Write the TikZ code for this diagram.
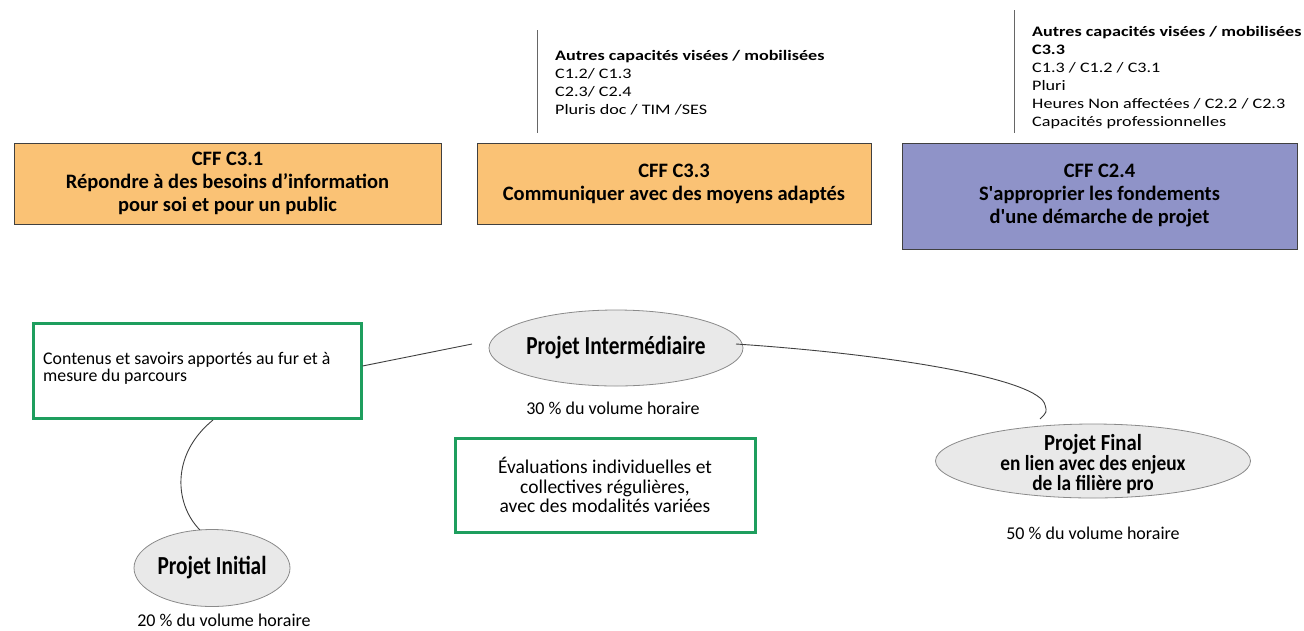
\documentclass[tikz,border=0pt]{standalone}
\usepackage{fontspec}
\setmainfont{Carlito}
\newfontfamily\ellfont{Carlito}[FakeStretch=0.82]
\newfontfamily\finfont{Carlito}[FakeStretch=0.9]
\newfontfamily\wdfont{Carlito}[FakeStretch=1.25]
\usetikzlibrary{shapes.geometric}
\definecolor{orangefill}{HTML}{FAC275}
\definecolor{bluefill}{HTML}{8F93C8}
\definecolor{greenline}{HTML}{1E9E5E}
\definecolor{ellfill}{HTML}{E9E9E9}
\definecolor{ellline}{HTML}{8A8A8A}
\tikzset{
  cffbox/.style={draw=black!75, line width=1pt, inner sep=0pt, font=\fontsize{20.5}{23}\selectfont\bfseries, align=center},
  greenbox/.style={draw=greenline, line width=3pt, inner sep=0pt},
  projell/.style={ellipse, draw=ellline, fill=ellfill, line width=0.8pt, inner sep=0pt, font=\ellfont\fontsize{26}{26}\selectfont\bfseries, align=center},
  sidetxt/.style={font=\wdfont\fontsize{14.5}{18}\selectfont, align=left, inner sep=0pt},
  smalltxt/.style={font=\fontsize{17.8}{17.5}\selectfont, align=left, inner sep=0pt},
  pcttxt/.style={font=\fontsize{18}{20}\selectfont, inner sep=0pt},
  vline/.style={draw=black!60, line width=1pt},
  conn/.style={draw=black!75, line width=0.9pt}
}
\begin{document}
\begin{tikzpicture}[x=1pt,y=-1pt]
\useasboundingbox (0,0) rectangle (1304,630);
% CFF boxes
\node[cffbox, fill=orangefill, minimum width=427pt, minimum height=81pt] (b1) at (227.5,183.5)
  {CFF C3.1\\Répondre à des besoins d’information\\pour soi et pour un public};
\node[cffbox, fill=orangefill, minimum width=394pt, minimum height=81pt] (b2) at (674,183.5)
  {CFF C3.3\\Communiquer avec des moyens adaptés};
\node[cffbox, fill=bluefill, minimum width=395pt, minimum height=106pt] (b3) at (1099.5,196)
  {CFF C2.4\\S\textquotesingle approprier les fondements\\d\textquotesingle une démarche de projet};
% vertical lines
\coordinate (v1a) at (537,30); \coordinate (v1b) at (537,133);
\coordinate (v2a) at (1014,10); \coordinate (v2b) at (1014,133);
\draw[vline] (v1a) -- (v1b);
\draw[vline] (v2a) -- (v2b);
% side texts
\node[sidetxt, anchor=north west] (t1) at (555,50.5)
  {\textbf{Autres capacités visées / mobilisées}\\C1.2/ C1.3\\C2.3/ C2.4\\Pluris doc / TIM /SES};
\node[sidetxt, anchor=north west] (t2) at (1032,26)
  {\textbf{Autres capacités visées / mobilisées}\\\textbf{C3.3}\\C1.3 / C1.2 / C3.1\\Pluri\\Heures Non affectées / C2.2 / C2.3\\Capacités professionnelles};
% green boxes
\node[greenbox, minimum width=328pt, minimum height=95pt] (gA) at (197,370.5) {};
\node[smalltxt, anchor=north west] (gAt) at (43,352)
  {Contenus et savoirs apportés au fur et à\\mesure du parcours};
\node[greenbox, minimum width=300pt, minimum height=94pt, font=\fontsize{19.5}{19.5}\selectfont, align=center] (gB) at (605,485)
  {Évaluations individuelles et\\collectives régulières,\\avec des modalités variées};
% ellipses
\node[projell, minimum width=254pt, minimum height=76pt] (pi) at (616,348) {Projet Intermédiaire};
\node[projell, minimum width=156pt, minimum height=77pt] (pin) at (212,568) {Projet Initial};
\node[projell, minimum width=315pt, minimum height=74pt, font=\finfont\fontsize{21.5}{20}\selectfont\bfseries] (pf) at (1093,461) {};
\node[font=\finfont\fontsize{21.5}{20}\selectfont\bfseries, align=center, inner sep=0pt] (pft) at (1093,464)
  {\fontsize{23}{20}\selectfont Projet Final\\en lien avec des enjeux\\de la filière pro};
% percentages
\node[pcttxt] (p1) at (613,408) {30 \% du volume horaire};
\node[pcttxt] (p2) at (224,620) {20 \% du volume horaire};
\node[pcttxt] (p3) at (1093,533) {50 \% du volume horaire};
% connectors
\coordinate (c1) at (472,344);
\draw[conn] (gA.east |- 0,366) -- (c1);
\draw[conn] (213,420) .. controls (170,455) and (175,505) .. (200,530);
\coordinate (c2) at (736,344);
\draw[conn] (c2) .. controls (900,355) and (1040,380) .. (1045,405) .. controls (1047,412) .. (1040,419);
\end{tikzpicture}
\end{document}
